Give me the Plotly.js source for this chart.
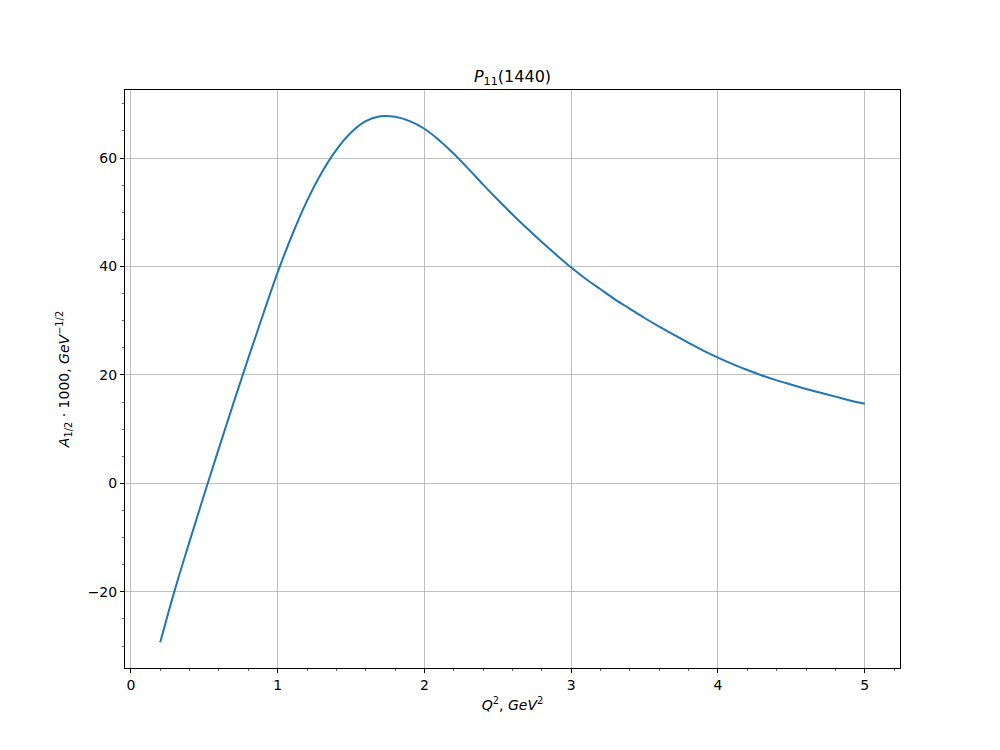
<!DOCTYPE html>
<html>
<head>
<meta charset="utf-8">
<script src="https://cdn.plot.ly/plotly-3.0.1.min.js"></script>
<style>html,body{margin:0;padding:0;background:#fff;}#chart{width:1000px;height:750px;}</style>
</head>
<body>
<div id="chart"></div>
<script>
const q2 = [0.2, 0.3, 0.4, 0.5, 0.6, 0.7, 0.8, 0.9, 1.0, 1.1, 1.2, 1.3, 1.4, 1.5, 1.6, 1.7, 1.8, 1.9, 2.0, 2.1, 2.2, 2.3, 2.4, 2.5, 2.6, 2.7, 2.8, 2.9, 3.0, 3.1, 3.2, 3.3, 3.4, 3.5, 3.6, 3.7, 3.8, 3.9, 4.0, 4.1, 4.2, 4.3, 4.4, 4.5, 4.6, 4.7, 4.8, 4.9, 5.0];
const a12 = [-29.3, -19.6, -10.7, -2.0, 6.5, 14.9, 23.1, 31.1, 38.9, 45.9, 52.1, 57.3, 61.5, 64.7, 66.8, 67.7, 67.6, 66.8, 65.4, 63.3, 60.8, 58.0, 55.1, 52.3, 49.6, 47.0, 44.5, 42.1, 39.8, 37.7, 35.8, 33.9, 32.2, 30.5, 28.9, 27.4, 25.9, 24.5, 23.2, 22.0, 20.9, 19.9, 19.0, 18.2, 17.4, 16.7, 16.0, 15.3, 14.7];
const xTicks = [0, 1, 2, 3, 4, 5];
const yTicks = [-20, 0, 20, 40, 60];

const font = {family: 'DejaVu Sans', size: 14, color: '#000'};
const trace = {
  x: q2, y: a12, type: 'scatter', mode: 'lines',
  line: {color: '#1f77b4', width: 2, shape: 'spline', smoothing: 1},
  hoverinfo: 'skip'
};
const axisCommon = {
  showline: true, linecolor: '#000', linewidth: 1, mirror: true,
  ticks: 'outside', ticklen: 4, tickwidth: 1, tickcolor: '#000',
  showgrid: true, gridcolor: '#b0b0b0', gridwidth: 0.8,
  zeroline: false, tickfont: font, automargin: false
};
const layout = {
  width: 1000, height: 750,
  paper_bgcolor: '#fff', plot_bgcolor: '#fff',
  margin: {l: 125, r: 100, t: 90, b: 82},
  showlegend: false,
  font: font,
  title: {
    text: '<i>P</i><sub>11</sub>(1440)',
    font: {family: 'DejaVu Sans', size: 16, color: '#000'},
    xref: 'paper', x: 0.5, xanchor: 'center',
    yref: 'container', y: 1 - 76/750, yanchor: 'middle'
  },
  xaxis: Object.assign({}, axisCommon, {
    range: [-0.04, 5.24],
    tickvals: xTicks, ticktext: xTicks.map(String),
    minor: {ticks: 'outside', dtick: 0.2, tick0: 0, ticklen: 2, tickcolor: '#000', tickwidth: 0.6, showgrid: false},
    title: {text: '<i>Q</i><sup>2</sup>, <i>GeV</i><sup>2</sup>', font: {family: 'DejaVu Sans', size: 14, color: '#000'}, standoff: 8}
  }),
  yaxis: Object.assign({}, axisCommon, {
    range: [-34.05, 72.55],
    tickvals: yTicks, ticktext: yTicks.map(v => v < 0 ? '\u2212' + Math.abs(v) : String(v)),
    minor: {ticks: 'outside', dtick: 5, tick0: 0, ticklen: 2, tickcolor: '#000', tickwidth: 0.6, showgrid: false},
    title: {text: '<i>A</i><sub>1/2</sub> · 1000, <i>GeV</i><sup>\u22121/2</sup>', font: {family: 'DejaVu Sans', size: 14, color: '#000'}, standoff: 14}
  })
};
Plotly.newPlot('chart', [trace], layout, {staticPlot: true, displayModeBar: false});
</script>
</body>
</html>
